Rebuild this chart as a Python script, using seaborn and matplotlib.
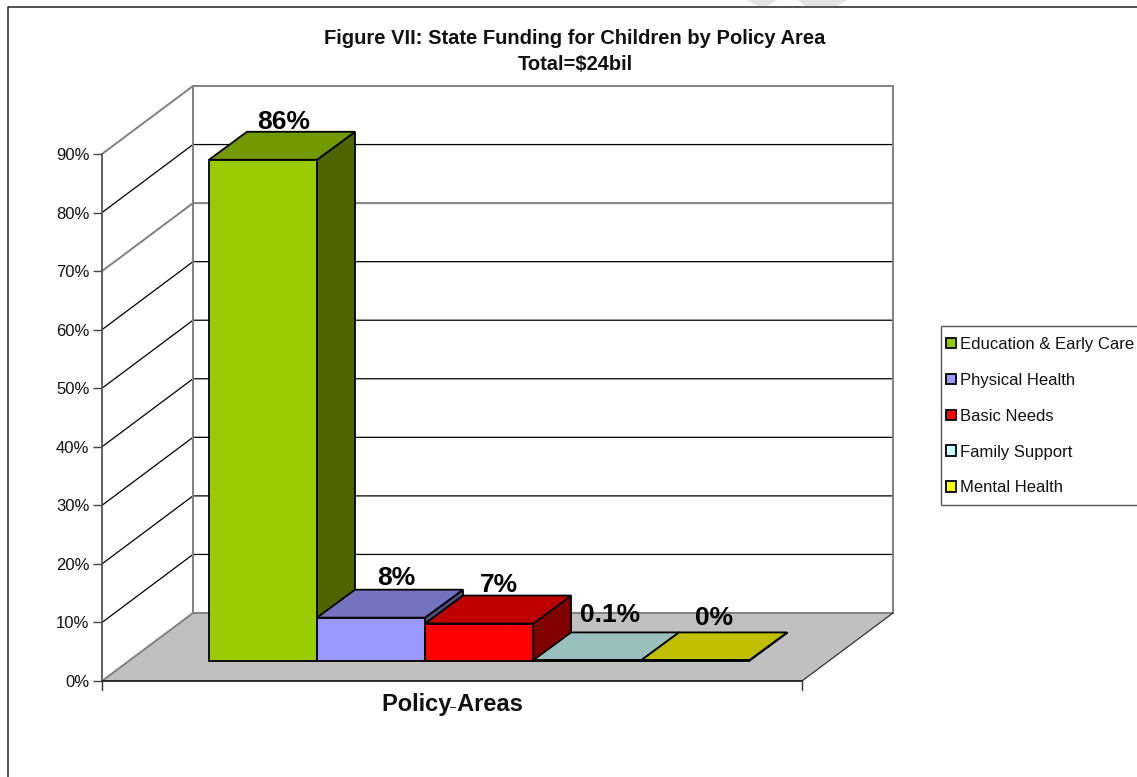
import matplotlib
matplotlib.use("Agg")
import matplotlib.pyplot as plt
from matplotlib.patches import Polygon, Rectangle
from matplotlib.lines import Line2D
from matplotlib.colors import to_rgb
import pandas as pd
import seaborn as sns

categories = ["Education & Early Care", "Physical Health", "Basic Needs", "Family Support", "Mental Health"]
values = [85.6, 7.4, 6.4, 0.1, 0.1]
labels = ["86%", "8%", "7%", "0.1%", "0%"]
colors = ["#99CC00", "#9999FF", "#FF0000", "#CCFFFF", "#FFFF00"]
yticks = [0, 10, 20, 30, 40, 50, 60, 70, 80, 90]
title = "Figure VII: State Funding for Children by Policy Area\nTotal=$24bil"
xlabel = "Policy Areas"

W, H = 1137, 777
sns.set_theme(style="white")
plt.rcParams["font.family"] = ["Liberation Sans", "DejaVu Sans"]
fig = plt.figure(figsize=(W / 100, H / 100), dpi=100, facecolor="white")

def px_rect(x0, y0, x1, y1):
    return [x0 / W, 1 - y1 / H, (x1 - x0) / W, (y1 - y0) / H]

PX_PER_CAT = 108
AX_W = 700
AX_H = 527
FRONT_X, FRONT_Y = 102, 681
ax = fig.add_axes(px_rect(FRONT_X, FRONT_Y - AX_H, FRONT_X + AX_W, FRONT_Y))
bar_ax = fig.add_axes(px_rect(FRONT_X + 26, FRONT_Y - 20 - AX_H, FRONT_X + 26 + AX_W, FRONT_Y - 20))
bar_ax.patch.set_alpha(0)

xmin = -1.25
xmax = xmin + AX_W / PX_PER_CAT
ymax = yticks[-1]
px_per_val = AX_H / ymax

# ---------- frame axes: floor, walls, grid ----------
ax.set_xlim(xmin, xmax)
ax.set_ylim(0, ymax)
ax.patch.set_alpha(0)
for s in ax.spines.values():
    s.set_visible(False)
ddx = 91 / PX_PER_CAT
ddy = 68 / px_per_val
ax.add_patch(Polygon([(xmin, 0), (xmax, 0), (xmax + ddx, ddy), (xmin + ddx, ddy)],
                     closed=True, fc="#C0C0C0", ec="none", clip_on=False, zorder=1))
GRAY = "#808080"
for v in yticks[1:]:
    c = GRAY if v in (70, 90) else "black"
    lw = 1.4 if v in (70, 90) else 0.9
    ax.plot([xmin, xmin + ddx, xmax + ddx], [v, v + ddy, v + ddy], color=c, lw=lw, clip_on=False, zorder=2,
            solid_joinstyle="miter")
ax.plot([xmin, xmin], [0, ymax], color="#555555", lw=1.3, clip_on=False, zorder=3)
ax.plot([xmin + ddx] * 2, [ddy, ymax + ddy], color=GRAY, lw=1.4, clip_on=False, zorder=3)
ax.plot([xmax + ddx] * 2, [ddy, ymax + ddy], color=GRAY, lw=1.4, clip_on=False, zorder=3)
ax.plot([xmin, xmin + ddx, xmax + ddx], [0, ddy, ddy], color=GRAY, lw=1.4, clip_on=False, zorder=3)
ax.plot([xmax, xmax + ddx], [0, ddy], color="#333333", lw=0.9, clip_on=False, zorder=3)
ax.plot([xmin, xmax], [0, 0], color="black", lw=1.1, clip_on=False, zorder=3)
tick_drop = 9 / px_per_val
for xv in (xmin, xmax):
    ax.plot([xv, xv], [0, -tick_drop], color="#333333", lw=1.0, clip_on=False, zorder=3)
ax.set_xticks([])
ax.set_yticks(yticks)
ax.set_yticklabels([f"{v}%" for v in yticks], fontsize=12, color="#111111")
ax.tick_params(axis="y", left=True, length=6.5, width=1.0, color="#444444", pad=2.5)
ax.set_xlabel("")
ax.set_ylabel("")

# ---------- bars ----------
df = pd.DataFrame({"Policy": categories, "Share": values})
sns.barplot(data=df, x="Policy", y="Share", hue="Policy", order=categories, hue_order=categories,
            palette=colors, saturation=1, width=1, dodge=False, edgecolor="black", linewidth=1.3,
            ax=bar_ax, legend=True)
bar_ax.set_xlim(xmin, xmax)
bar_ax.set_ylim(0, ymax)
bar_ax.set_xticks([])
bar_ax.set_yticks([])
bar_ax.set_xlabel("")
bar_ax.set_ylabel("")
for s in bar_ax.spines.values():
    s.set_visible(False)

bdx = 38 / PX_PER_CAT
bdy = 28 / px_per_val

def shade(c, f):
    return tuple(v * f for v in to_rgb(c))

fronts = sorted([p for p in bar_ax.patches if p.get_height() > 0], key=lambda p: p.get_x())
label_off = [(2, 3), (6, 5), (1, 4), (4, 10), (0, 7)]
for i, (bar, c) in enumerate(zip(fronts, colors)):
    l, r = bar.get_x(), bar.get_x() + bar.get_width()
    t = bar.get_height()
    z = 10 + 3 * i
    bar.set_zorder(z + 2)
    bar.set_clip_on(False)
    bar_ax.add_patch(Polygon([(r, 0), (r + bdx, bdy), (r + bdx, t + bdy), (r, t)], closed=True,
                             fc=shade(c, 0.5), ec="black", lw=1.3, zorder=z, clip_on=False))
    bar_ax.add_patch(Polygon([(l, t), (r, t), (r + bdx, t + bdy), (l + bdx, t + bdy)], closed=True,
                             fc=shade(c, 0.75), ec="black", lw=1.3, zorder=z + 1, clip_on=False))
    cx = (l + r) / 2 + bdx / 2
    ox, oy = label_off[i]
    bar_ax.annotate(labels[i], xy=(cx, t + bdy), xytext=(ox * 0.72, oy * 0.72), textcoords="offset points",
                    ha="center", va="baseline", fontsize=19, fontweight="bold", color="black",
                    zorder=40, annotation_clip=False)

# ---------- legend ----------
fig.add_artist(Rectangle((940.5 / W, 1 - 505 / H), 210 / W, 179 / H, transform=fig.transFigure,
                         fc="white", ec="#555555", lw=1.0, zorder=-1))
leg = bar_ax.legend(loc="upper left", bbox_to_anchor=(945.5 / W, 1 - 337 / H), bbox_transform=fig.transFigure,
                    fontsize=12, frameon=False, handlelength=0.6, handleheight=0.6, handletextpad=0.3,
                    labelspacing=1.25, borderpad=0, borderaxespad=0, labelcolor="#111111")
leg.set_zorder(50)

# ---------- texts ----------
fig.text(575 / W, 1 - 51.5 / H, title, ha="center", va="center", fontsize=14.5, fontweight="bold",
         color="#111111", linespacing=1.45)
fig.text(452 / W, 1 - 704 / H, xlabel, ha="center", va="center", fontsize=17, fontweight="bold", color="#111111")
fig.add_artist(Line2D([450 / W, 455 / W], [1 - 707 / H, 1 - 707 / H], color="#333333", lw=0.8))

# ---------- page border and watermark fragments ----------
fig.add_artist(Line2D([1, 7.5 / W, 7.5 / W], [1 - 6.5 / H, 1 - 6.5 / H, 0], color="#222222", lw=1.1))
for pts in ([(747, 0), (777, 0), (767, 6), (758, 6)], [(798, 0), (847, 0), (837, 6), (805, 6)]):
    fig.add_artist(Polygon([(x / W, 1 - y / H) for x, y in pts], closed=True, fc="#E2E2E2", ec="none",
                           transform=fig.transFigure))

fig.savefig("out.png", dpi=100, facecolor="white")
